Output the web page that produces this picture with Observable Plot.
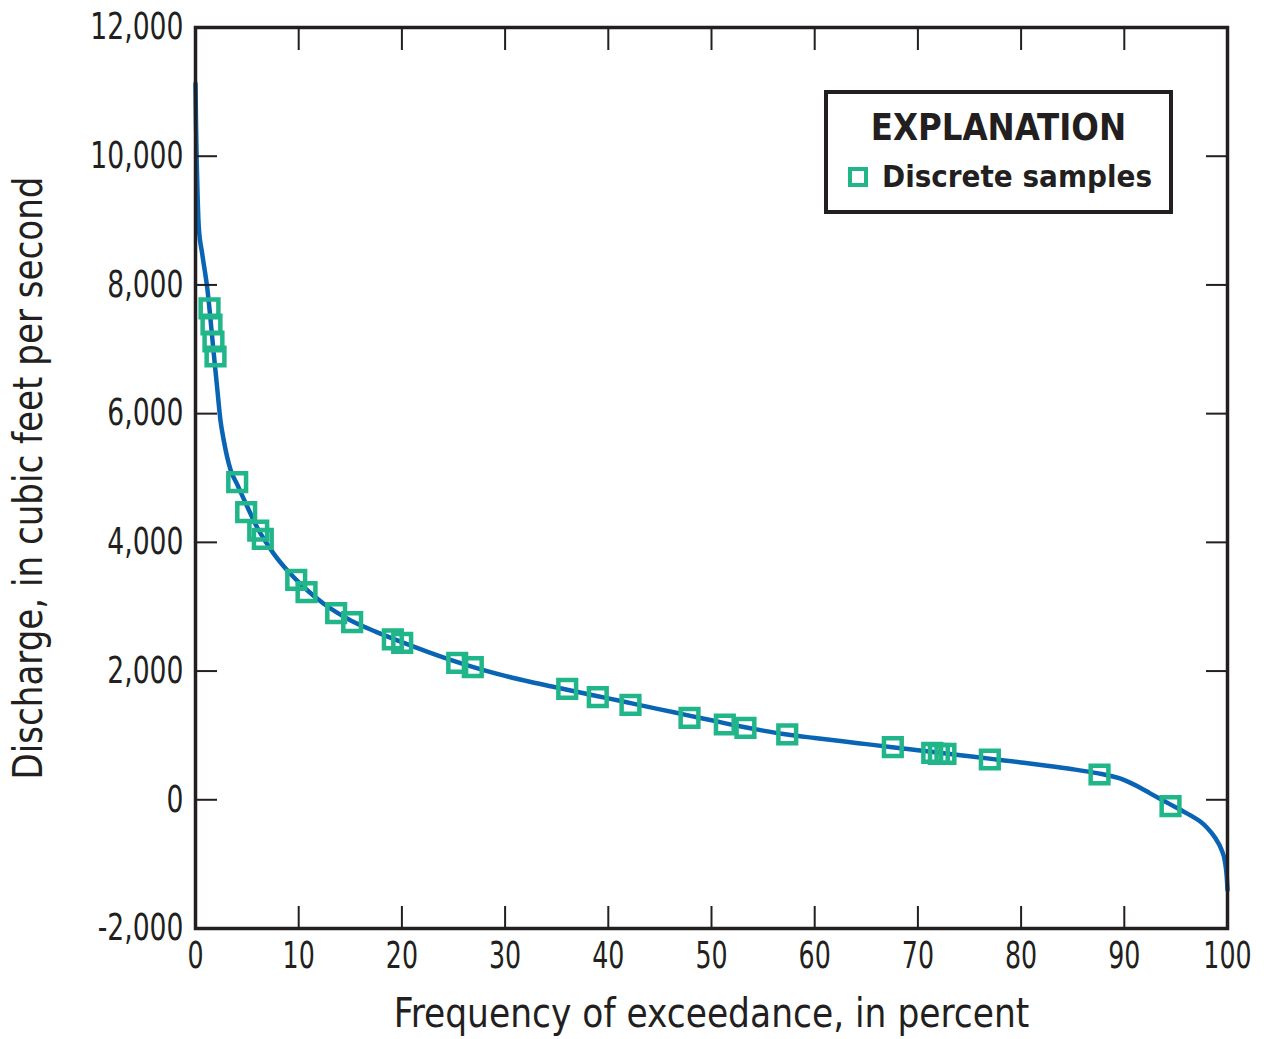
<!DOCTYPE html>
<html>
<head>
<meta charset="utf-8">
<script src="https://cdn.jsdelivr.net/npm/d3@7"></script>
<script src="https://cdn.jsdelivr.net/npm/@observablehq/plot@0.6"></script>
<style>
  html, body { margin: 0; padding: 0; background: #fff; }
  #wrap { position: relative; width: 1267px; height: 1039px; }
  #legend {
    position: absolute; left: 824px; top: 90px; width: 341px; height: 116px;
    border: 4px solid #231f20; background: #fff; box-sizing: content-box;
    font-family: "DejaVu Sans Condensed", "DejaVu Sans", sans-serif;
    color: #231f20; font-weight: bold;
  }
  #legend .title { position: absolute; left: 0; width: 341px; top: 10px; text-align: center; font-size: 38px; line-height: 46px; }
  #legend .title span { display: inline-block; transform: scaleX(0.95); }
  #legend .item { position: absolute; left: 20px; top: 62px; font-size: 31px; line-height: 40px; white-space: nowrap; }
  #legend .sw { display: inline-block; width: 12px; height: 12px; border: 4.5px solid #21b58a; vertical-align: middle; margin-right: 14px; position: relative; top: -2px; }
</style>
</head>
<body>
<div id="wrap"></div>
<script>
// Flow-duration curve (frequency of exceedance, percent vs discharge, ft3/s)
const curveX = [0, 0.05, 0.12, 0.2, 0.32, 0.65, 1.13, 1.77, 2.1, 2.42, 2.74, 3.39, 4.04, 5.0, 5.98, 7.59, 9.2, 10.8, 12.43, 15, 17.5, 20, 22.5, 25, 27.5, 30, 32.5, 35, 37.5, 40, 42.5, 45, 47.5, 50, 52.5, 55, 57.5, 60, 62.5, 65, 67.5, 70, 72.5, 75, 77.5, 80, 82.5, 85, 87.5, 88.5, 89.5, 90.5, 91.5, 92.5, 93.5, 94.5, 95.5, 96.5, 97.3, 98, 98.8, 99.4, 99.75, 99.93, 100];
const curveY = [11130, 10500, 9900, 9400, 8897, 8484, 7965, 6934, 6400, 5893, 5583, 5130, 4900, 4560, 4230, 3822, 3511, 3260, 3045, 2790, 2610, 2450, 2300, 2160, 2035, 1925, 1830, 1745, 1660, 1575, 1490, 1405, 1320, 1235, 1150, 1075, 1010, 960, 912, 865, 818, 770, 722, 675, 628, 580, 530, 475, 410, 378, 335, 270, 190, 100, 12, -75, -160, -250, -330, -430, -590, -770, -960, -1200, -1400];

// Discrete samples
const sampleX = [1.36, 1.55, 1.74, 1.94, 4.04, 4.91, 6.08, 6.52, 9.76, 10.76, 13.63, 15.18, 19.12, 20.03, 25.36, 26.87, 36.02, 38.98, 42.15, 47.87, 51.29, 53.29, 57.34, 67.57, 71.39, 72.03, 72.67, 76.97, 87.60, 94.48];
const sampleY = [7634, 7385, 7121, 6888, 4935, 4469, 4184, 4055, 3418, 3226, 2899, 2759, 2491, 2439, 2129, 2060, 1725, 1594, 1476, 1274, 1170, 1119, 1015, 817, 730, 715, 715, 626, 393, -99];

const xTicks = [0, 10, 20, 30, 40, 50, 60, 70, 80, 90, 100];
const yTicks = [-2000, 0, 2000, 4000, 6000, 8000, 10000, 12000];
const xTitle = "Frequency of exceedance, in percent";
const yTitle = "Discharge, in cubic feet per second";

const curve = curveX.map((x, i) => ({x, y: curveY[i]}));
const samples = sampleX.map((x, i) => ({x, y: sampleY[i]}));

const ink = "#231f20";
const font = "'DejaVu Sans Condensed', 'DejaVu Sans', sans-serif";

const chart = Plot.plot({
  width: 1267,
  height: 1039,
  marginLeft: 195,
  marginRight: 40,
  marginTop: 27,
  marginBottom: 111,
  style: {fontFamily: font, fontSize: "37px", color: ink, background: "#fff", overflow: "visible"},
  x: {domain: [0, 100]},
  y: {domain: [-2000, 12000]},
  marks: [
    Plot.line(curve, {x: "x", y: "y", stroke: "#0a64b4", strokeWidth: 4.5, curve: "monotone-x"}),
    Plot.dot(samples, {x: "x", y: "y", symbol: "square", r: 10, stroke: "#21b58a", strokeWidth: 4.5, fill: "none"}),
    Plot.axisY(yTicks, {anchor: "left", tickSize: -22, tickPadding: 34, stroke: ink, strokeWidth: 2, fill: ink, tickFormat: d => d3.format(",")(d).replace("−", "-"), label: null}),
    Plot.axisY(yTicks, {anchor: "right", tickSize: -22, strokeWidth: 2, stroke: ink, tickFormat: () => "", label: null}),
    Plot.axisX(xTicks, {anchor: "bottom", tickSize: -22, tickPadding: 35, strokeWidth: 2, stroke: ink, fill: ink, label: null}),
    Plot.axisX(xTicks, {anchor: "top", tickSize: -22, strokeWidth: 2, stroke: ink, tickFormat: () => "", label: null}),
    Plot.frame({stroke: ink, strokeWidth: 3.5}),
    Plot.text([xTitle], {frameAnchor: "bottom", lineAnchor: "middle", textAnchor: "middle", dy: 85, fontSize: 41, fill: ink, text: d => d}),
    Plot.text([yTitle], {frameAnchor: "left", lineAnchor: "middle", textAnchor: "middle", dx: -167, rotate: -90, fontSize: 41, fill: ink, text: d => d})
  ]
});

const wrap = document.getElementById("wrap");
wrap.appendChild(chart);

// Horizontal condensing of text to imitate the condensed typeface
function squeeze(node, s) {
  const t = node.getAttribute("transform");
  if (t) {
    node.setAttribute("transform", t + ` scale(${s},1)`);
  } else {
    const x = +node.getAttribute("x") || 0, y = +node.getAttribute("y") || 0;
    node.setAttribute("transform", `translate(${x},${y}) scale(${s},1) translate(${-x},${-y})`);
  }
}
const svg = d3.select(chart);
svg.selectAll('g[aria-label="y-axis tick label"] text').each(function() { squeeze(this, 0.8); });
svg.selectAll('g[aria-label="x-axis tick label"] text').each(function() { squeeze(this, 0.76); });
svg.selectAll('g[aria-label="text"] text').each(function() {
  const str = this.textContent;
  const target = str === xTitle ? 636 : 603;
  const len = this.getComputedTextLength();
  if (len > 0) {
    const t = this.getAttribute("transform") || "";
    this.setAttribute("transform", t + ` scale(${target / len},1)`);
  }
});

const lg = document.createElement("div");
lg.id = "legend";
lg.innerHTML = '<div class="title"><span>EXPLANATION</span></div><div class="item"><span class="sw"></span>Discrete samples</div>';
wrap.appendChild(lg);
</script>
</body>
</html>
